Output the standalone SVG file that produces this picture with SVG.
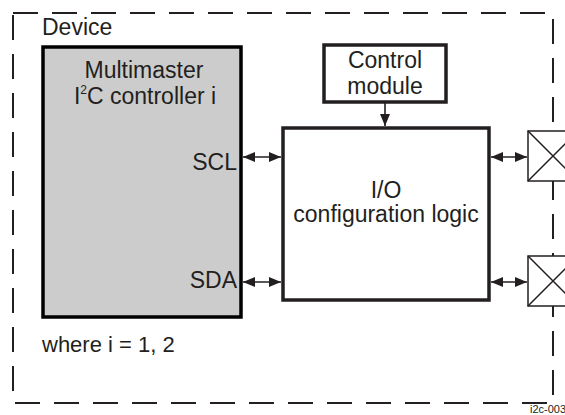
<svg xmlns="http://www.w3.org/2000/svg" width="565" height="415" viewBox="0 0 565 415">
<defs>
<marker id="ah" viewBox="0 0 12 10" refX="12" refY="5" markerWidth="12" markerHeight="10" markerUnits="userSpaceOnUse" orient="auto-start-reverse">
<path d="M0,0 L12,5 L0,10 Z" fill="#231f20"/>
</marker>
<style>
text{font-family:"Liberation Sans",Arial,sans-serif;fill:#231f20;font-size:23px}
.box{fill:#fff;stroke:#231f20;stroke-width:3.5}
.gray{fill:#cccccc;stroke:#000;stroke-width:3.5}
.conn{stroke:#231f20;stroke-width:1.6;fill:none}
.pad{fill:#fff;stroke:#231f20;stroke-width:1.5}
.dash{fill:none;stroke:#231f20;stroke-width:2;stroke-dasharray:25 14}
</style>
</defs>
<rect id="device" class="dash" x="13" y="13" width="540" height="390"/>
<text x="42" y="35">Device</text>
<g id="controller">
<rect class="gray" x="43" y="47" width="198" height="270"/>
<text x="144" y="78" text-anchor="middle">Multimaster</text>
<text x="145" y="104" text-anchor="middle">I<tspan font-size="12" dy="-10">2</tspan><tspan dy="10">C controller i</tspan></text>
<text x="237" y="170" text-anchor="end">SCL</text>
<text x="237" y="288" text-anchor="end">SDA</text>
</g>
<g id="control-module">
<rect class="box" x="324" y="45" width="122" height="57"/>
<text x="385" y="68" text-anchor="middle">Control</text>
<text x="385" y="94" text-anchor="middle">module</text>
</g>
<g id="io-logic">
<rect class="box" x="283" y="128" width="206" height="172"/>
<text x="386" y="198" text-anchor="middle">I/O</text>
<text x="386" y="222" text-anchor="middle">configuration logic</text>
</g>
<g id="pad1">
<rect class="pad" x="528" y="131" width="50" height="50"/>
<path class="pad" d="M528,131 L578,181 M528,181 L578,131"/>
</g>
<g id="pad2">
<rect class="pad" x="528" y="256" width="50" height="50"/>
<path class="pad" d="M528,256 L578,306 M528,306 L578,256"/>
</g>
<g id="connectors">
<line class="conn" x1="385" y1="103" x2="385" y2="126" marker-end="url(#ah)"/>
<line class="conn" x1="243" y1="157" x2="281" y2="157" marker-start="url(#ah)" marker-end="url(#ah)"/>
<line class="conn" x1="243" y1="282" x2="281" y2="282" marker-start="url(#ah)" marker-end="url(#ah)"/>
<line class="conn" x1="491" y1="157" x2="527" y2="157" marker-start="url(#ah)" marker-end="url(#ah)"/>
<line class="conn" x1="491" y1="282" x2="527" y2="282" marker-start="url(#ah)" marker-end="url(#ah)"/>
</g>
<text x="42" y="352" style="font-size:22px">where i = 1, 2</text>
<text x="530" y="413" style="font-size:11px">i2c-003</text>
</svg>
